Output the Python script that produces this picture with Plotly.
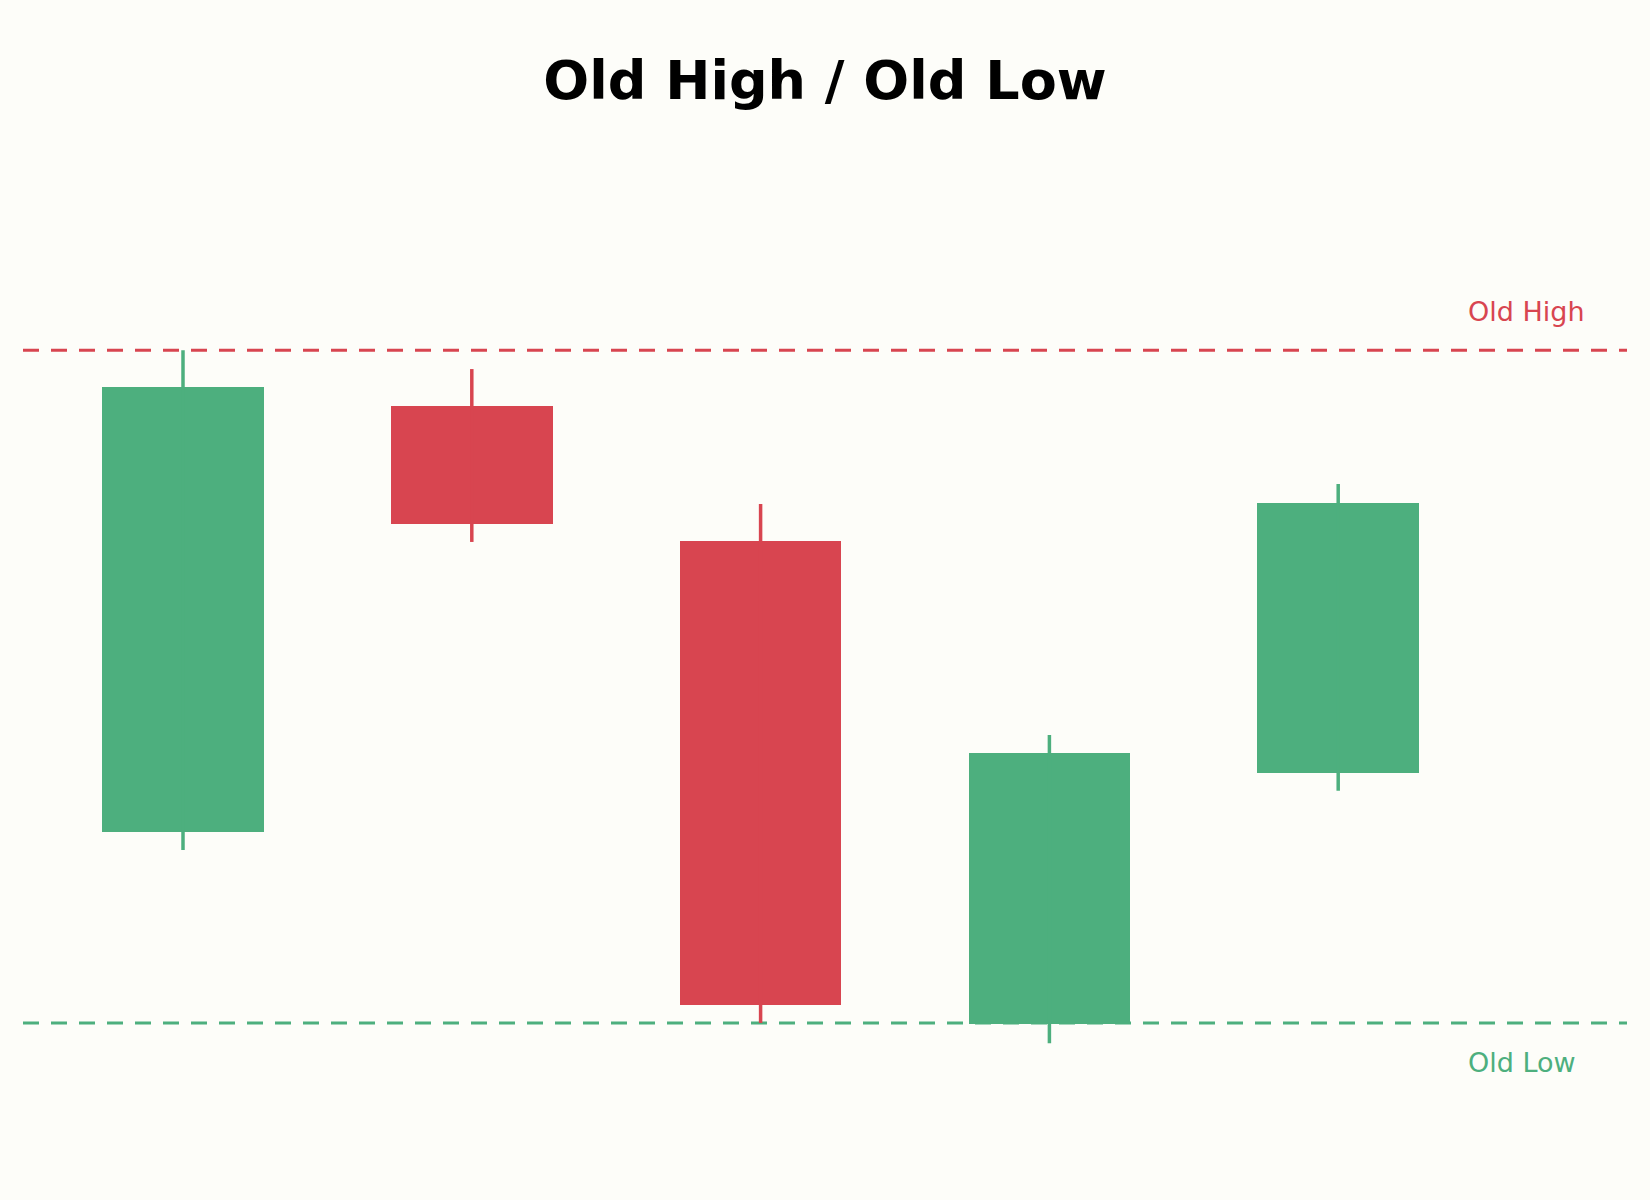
import plotly.graph_objects as go

# candle data
candle_idx = [0, 1, 2, 3, 4]
opens = [95.68, 108.34, 104.33, 89.97, 97.42]
highs = [110.00, 109.44, 105.43, 98.56, 106.02]
lows = [95.14, 104.30, 90.00, 89.40, 96.90]
closes = [108.91, 104.84, 90.53, 98.03, 105.46]

old_high = 110.0
old_low = 90.0

green = "#4daf7e"
red = "#d84550"
bg = "#fdfdf9"

fig = go.Figure()

#wicks, one trace per colour
for col, up in [(green, True), (red, False)]:
    wx, wy = [], []
    for i, o, h, l, c in zip(candle_idx, opens, highs, lows, closes):
        if (c >= o) == up:
            wx += [i, i, None]
            wy += [l, h, None]
    fig.add_trace(go.Scatter(x=wx, y=wy, mode="lines",
                             line=dict(color=col, width=3.5),
                             hoverinfo="skip", showlegend=False))

#bodies as floating bars
body_cols = [green if c >= o else red for o, c in zip(opens, closes)]
fig.add_trace(go.Bar(x=candle_idx,
                     y=[abs(c - o) for o, c in zip(opens, closes)],
                     base=[min(o, c) for o, c in zip(opens, closes)],
                     width=0.56, marker=dict(color=body_cols, line=dict(width=0)),
                     showlegend=False))

#old high / old low levels (behind the candles)
fig.add_shape(type="line", xref="paper", x0=0, x1=1, y0=old_high, y1=old_high,
              layer="below", line=dict(color=red, width=3, dash="16px,12px"))
fig.add_shape(type="line", xref="paper", x0=0, x1=1, y0=old_low, y1=old_low,
              layer="below", line=dict(color=green, width=3, dash="16px,12px"))

fig.add_annotation(x=4.443, y=111.14, text="Old High", showarrow=False,
                   xanchor="left", yanchor="middle",
                   font=dict(family="DejaVu Sans", size=27, color=red))
fig.add_annotation(x=4.443, y=88.83, text="Old Low", showarrow=False,
                   xanchor="left", yanchor="middle",
                   font=dict(family="DejaVu Sans", size=27, color=green))

fig.update_layout(
    width=1650, height=1200,
    paper_bgcolor=bg, plot_bgcolor=bg,
    margin=dict(l=23, r=23, t=140, b=60),
    title=dict(text="<b>Old High / Old Low</b>", x=0.5, xanchor="center",
               y=1 - 80 / 1200, yref="container", yanchor="middle",
               font=dict(family="DejaVu Sans", size=54, color="black")),
    xaxis=dict(range=[-0.554, 5.0], visible=False, showgrid=False, zeroline=False),
    yaxis=dict(range=[86.52, 116.25], visible=False, showgrid=False, zeroline=False),
    bargap=0,
)

fig.write_html("out.html", config={"displayModeBar": False},
               post_script="document.body.style.margin='0';")
